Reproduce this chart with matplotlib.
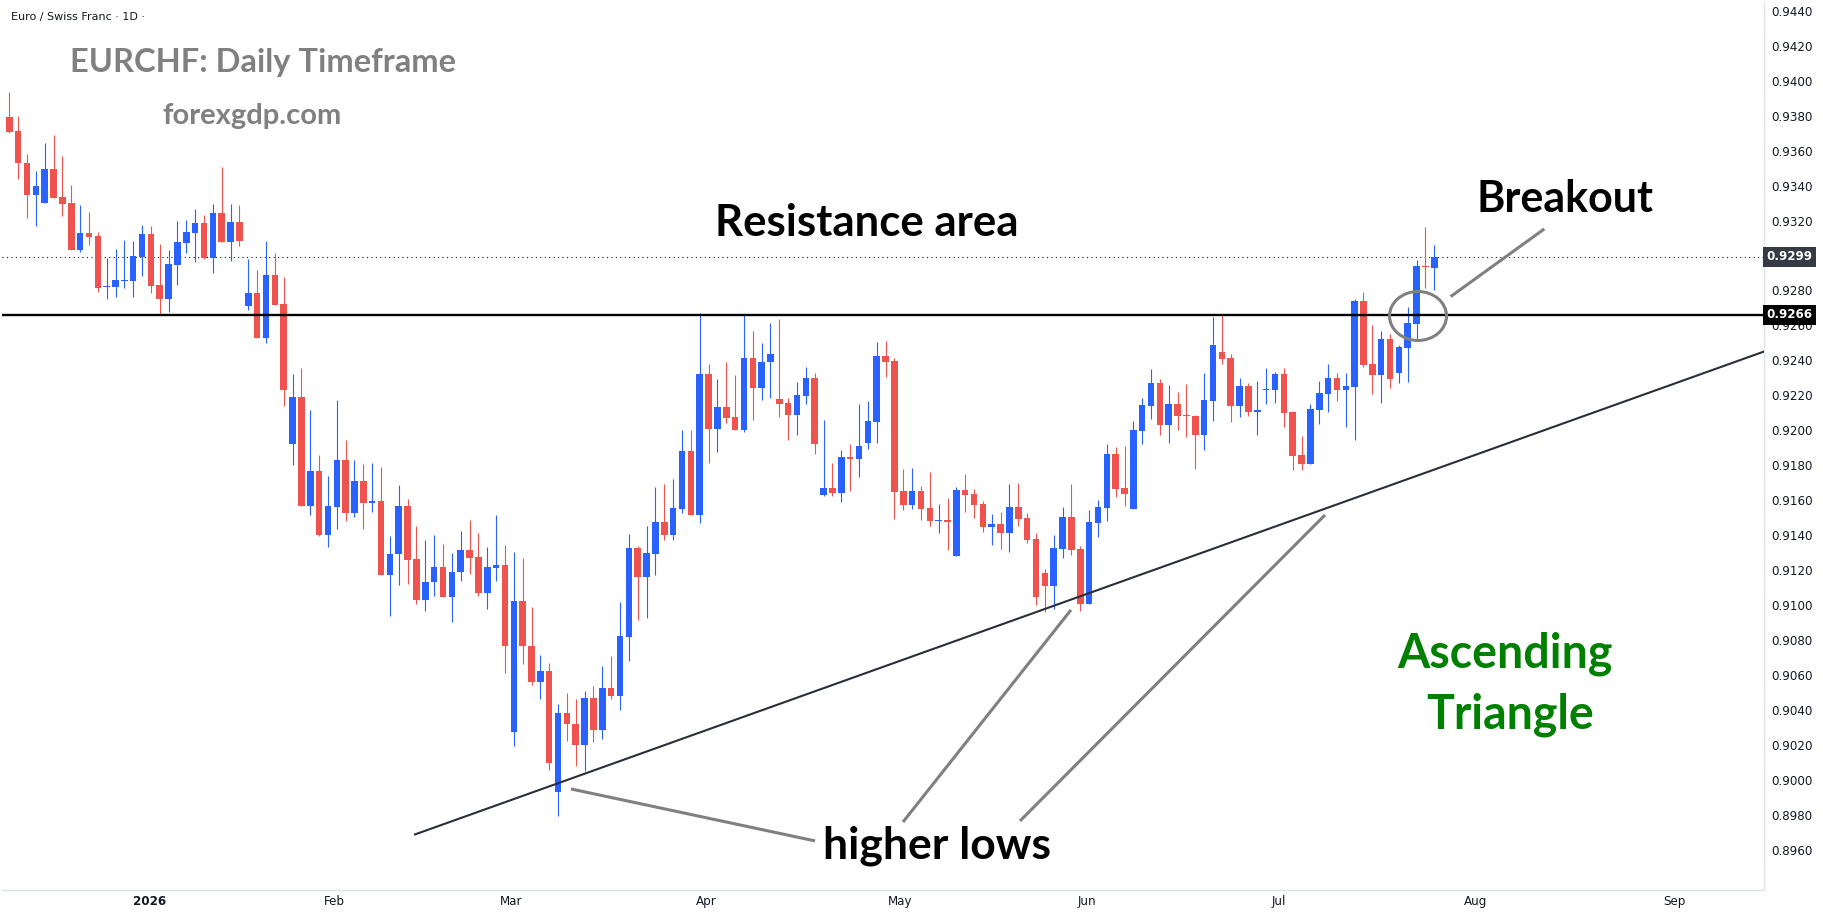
"""EURCHF daily chart with an ascending-triangle breakout markup."""
import numpy as np
import matplotlib
matplotlib.use("Agg")
import matplotlib.pyplot as plt
from matplotlib.patches import Ellipse
from matplotlib.transforms import blended_transform_factory

# ── Data: daily OHLC, one row per trading day (index 0 = mid Dec 2025) ─────────
opens = [
    0.93794, 0.93712, 0.93531, 0.93346, 0.93302, 0.93495, 0.93335, 0.93300, 0.93034, 0.93129,
    0.93112, 0.92820, 0.92822, 0.92854, 0.92856, 0.92994, 0.93123, 0.92832, 0.92753, 0.92948,
    0.93074, 0.93131, 0.93186, 0.92988, 0.93243, 0.93079, 0.93192, 0.92713, 0.92786, 0.92530,
    0.92889, 0.92723, 0.91924, 0.92191, 0.91570, 0.91768, 0.91404, 0.91564, 0.91831, 0.91530,
    0.91711, 0.91587, 0.91596, 0.91175, 0.91290, 0.91568, 0.91265, 0.91032, 0.91130, 0.91219,
    0.91049, 0.91187, 0.91316, 0.91276, 0.91067, 0.91215, 0.91230, 0.90277, 0.91025, 0.90769,
    0.90563, 0.90624, 0.89934, 0.90384, 0.90321, 0.90203, 0.90470, 0.90289, 0.90527, 0.90483,
    0.90820, 0.91328, 0.91164, 0.91295, 0.91476, 0.91404, 0.91551, 0.91882, 0.91516, 0.92323,
    0.92008, 0.92134, 0.92077, 0.92002, 0.92414, 0.92244, 0.92388, 0.92180, 0.92157, 0.92088,
    0.92197, 0.92300, 0.91631, 0.91671, 0.91642, 0.91848, 0.91837, 0.91928, 0.92048, 0.92426,
    0.92397, 0.91654, 0.91574, 0.91654, 0.91556, 0.91484, 0.91490, 0.91284, 0.91659, 0.91636,
    0.91579, 0.91448, 0.91465, 0.91413, 0.91562, 0.91499, 0.91379, 0.91185, 0.91110, 0.91322,
    0.91505, 0.91322, 0.91007, 0.91471, 0.91556, 0.91865, 0.91671, 0.91551, 0.91997, 0.92140,
    0.92271, 0.92031, 0.92151, 0.92088, 0.92082, 0.91974, 0.92168, 0.92448, 0.92414, 0.92140,
    0.92254, 0.92105, 0.92231, 0.92231, 0.92323, 0.92105, 0.91860, 0.91808, 0.92117, 0.92208,
    0.92300, 0.92231, 0.92248, 0.92740, 0.92380, 0.92317, 0.92523, 0.92328, 0.92471, 0.92609,
    0.92940, 0.92929,
]
highs = [
    0.93937, 0.93800, 0.93581, 0.93485, 0.93645, 0.93689, 0.93569, 0.93403, 0.93289, 0.93249,
    0.93135, 0.92986, 0.93037, 0.93089, 0.93083, 0.93175, 0.93169, 0.93068, 0.93032, 0.93198,
    0.93203, 0.93266, 0.93232, 0.93295, 0.93506, 0.93295, 0.93289, 0.92980, 0.92917, 0.93083,
    0.93015, 0.92877, 0.92323, 0.92357, 0.92117, 0.91859, 0.91741, 0.92174, 0.91945, 0.91831,
    0.91808, 0.91814, 0.91791, 0.91396, 0.91688, 0.91608, 0.91455, 0.91370, 0.91404, 0.91352,
    0.91301, 0.91427, 0.91490, 0.91415, 0.91330, 0.91513, 0.91345, 0.91307, 0.91271, 0.90987,
    0.90716, 0.90670, 0.90436, 0.90499, 0.90464, 0.90510, 0.90539, 0.90653, 0.90710, 0.91019,
    0.91408, 0.91339, 0.91454, 0.91677, 0.91694, 0.91720, 0.92002, 0.92002, 0.92670, 0.92380,
    0.92294, 0.92391, 0.92317, 0.92660, 0.92569, 0.92500, 0.92614, 0.92637, 0.92185, 0.92277,
    0.92363, 0.92328, 0.92060, 0.91814, 0.91888, 0.91922, 0.92151, 0.92168, 0.92506, 0.92511,
    0.92414, 0.91779, 0.91785, 0.91682, 0.91762, 0.91579, 0.91614, 0.91676, 0.91751, 0.91665,
    0.91596, 0.91522, 0.91534, 0.91694, 0.91699, 0.91528, 0.91413, 0.91208, 0.91402, 0.91562,
    0.91694, 0.91339, 0.91545, 0.91602, 0.91922, 0.91905, 0.91911, 0.92054, 0.92185, 0.92351,
    0.92294, 0.92260, 0.92220, 0.92265, 0.92088, 0.92330, 0.92649, 0.92666, 0.92437, 0.92300,
    0.92271, 0.92283, 0.92357, 0.92334, 0.92357, 0.92111, 0.91968, 0.92151, 0.92283, 0.92380,
    0.92328, 0.92328, 0.92751, 0.92792, 0.92603, 0.92569, 0.92551, 0.92488, 0.92706, 0.92974,
    0.93163, 0.93060,
]
lows = [
    0.93703, 0.93436, 0.93213, 0.93171, 0.93302, 0.93331, 0.93228, 0.93034, 0.93022, 0.93062,
    0.92793, 0.92750, 0.92765, 0.92814, 0.92765, 0.92885, 0.92784, 0.92666, 0.92679, 0.92830,
    0.93016, 0.92965, 0.92980, 0.92902, 0.93079, 0.92971, 0.93056, 0.92690, 0.92530, 0.92498,
    0.92719, 0.92142, 0.91804, 0.91570, 0.91518, 0.91398, 0.91335, 0.91433, 0.91484, 0.91507,
    0.91433, 0.91535, 0.91175, 0.90941, 0.91118, 0.91124, 0.91009, 0.90964, 0.91055, 0.91049,
    0.90906, 0.91141, 0.91181, 0.91055, 0.90981, 0.91141, 0.90611, 0.90197, 0.90661, 0.90546,
    0.90464, 0.90055, 0.89797, 0.90226, 0.90083, 0.90049, 0.90215, 0.90237, 0.90466, 0.90403,
    0.90683, 0.90914, 0.90924, 0.91170, 0.91375, 0.91375, 0.91526, 0.91516, 0.91469, 0.91816,
    0.91877, 0.92044, 0.92002, 0.91993, 0.92060, 0.92174, 0.92187, 0.92077, 0.91945, 0.91974,
    0.92151, 0.91865, 0.91625, 0.91625, 0.91591, 0.91654, 0.91734, 0.91894, 0.91928, 0.92305,
    0.91494, 0.91545, 0.91551, 0.91488, 0.91455, 0.91415, 0.91318, 0.91284, 0.91535, 0.91499,
    0.91419, 0.91345, 0.91322, 0.91305, 0.91454, 0.91356, 0.91002, 0.90962, 0.90979, 0.91271,
    0.91288, 0.90967, 0.91007, 0.91391, 0.91482, 0.91619, 0.91568, 0.91551, 0.91922, 0.92065,
    0.91974, 0.91928, 0.92002, 0.91962, 0.91779, 0.91888, 0.92054, 0.92380, 0.92048, 0.92077,
    0.92082, 0.91974, 0.92151, 0.92157, 0.92020, 0.91774, 0.91774, 0.91808, 0.92037, 0.92105,
    0.92168, 0.92020, 0.91945, 0.92363, 0.92208, 0.92157, 0.92243, 0.92271, 0.92277, 0.92511,
    0.92814, 0.92803,
]
closes = [
    0.93708, 0.93527, 0.93346, 0.93398, 0.93495, 0.93331, 0.93297, 0.93034, 0.93129, 0.93108,
    0.92816, 0.92826, 0.92860, 0.92860, 0.92999, 0.93123, 0.92828, 0.92753, 0.92952, 0.93077,
    0.93135, 0.93186, 0.92988, 0.93243, 0.93079, 0.93192, 0.93083, 0.92786, 0.92530, 0.92889,
    0.92719, 0.92233, 0.92191, 0.91570, 0.91768, 0.91404, 0.91568, 0.91831, 0.91530, 0.91711,
    0.91587, 0.91596, 0.91175, 0.91293, 0.91568, 0.91261, 0.91032, 0.91133, 0.91219, 0.91049,
    0.91190, 0.91316, 0.91272, 0.91067, 0.91221, 0.91231, 0.90769, 0.91025, 0.90764, 0.90563,
    0.90624, 0.90100, 0.90384, 0.90318, 0.90203, 0.90470, 0.90289, 0.90527, 0.90483, 0.90824,
    0.91328, 0.91164, 0.91299, 0.91476, 0.91404, 0.91556, 0.91882, 0.91516, 0.92323, 0.92008,
    0.92134, 0.92073, 0.92002, 0.92414, 0.92244, 0.92391, 0.92437, 0.92151, 0.92088, 0.92203,
    0.92300, 0.91922, 0.91671, 0.91642, 0.91848, 0.91837, 0.91911, 0.92054, 0.92426, 0.92391,
    0.91648, 0.91574, 0.91654, 0.91551, 0.91484, 0.91490, 0.91473, 0.91659, 0.91631, 0.91574,
    0.91448, 0.91465, 0.91413, 0.91562, 0.91494, 0.91373, 0.91048, 0.91110, 0.91328, 0.91505,
    0.91316, 0.91007, 0.91476, 0.91562, 0.91865, 0.91665, 0.91636, 0.92002, 0.92145, 0.92271,
    0.92031, 0.92151, 0.92082, 0.92082, 0.91974, 0.92174, 0.92488, 0.92408, 0.92140, 0.92254,
    0.92105, 0.92117, 0.92237, 0.92323, 0.92100, 0.91854, 0.91808, 0.92123, 0.92214, 0.92300,
    0.92231, 0.92254, 0.92740, 0.92374, 0.92317, 0.92523, 0.92294, 0.92477, 0.92614, 0.92940,
    0.92934, 0.92992,
]

# Month labels and the bar index where each month starts
month_labels = ["2026", "Feb", "Mar", "Apr", "May", "Jun", "Jul", "Aug", "Sep"]
month_bars = [15.8, 36.7, 56.7, 78.7, 100.7, 121.8, 143.4, 165.7, 188.1]

resistance = 0.9266
price_ticks = np.arange(0.8960, 0.94401, 0.002)

# ── Style ─────────────────────────────────────────────────────────────────────
UP = "#2962FF"
DOWN = "#EF5350"
INK = "#131722"
AXIS_LINE = "#E0E3EB"
NOTE_GRAY = "#808080"
ANNOT_FONT = "Lato"

W, H = 1823, 921
fig = plt.figure(figsize=(W / 100, H / 100), dpi=100)
fig.patch.set_facecolor("white")
ax = fig.add_axes([2 / W, 31.5 / H, 1762 / W, 886.5 / H])

o = np.array(opens)
h = np.array(highs)
l = np.array(lows)
c = np.array(closes)
x = np.arange(len(c))
colors = np.where(c >= o, UP, DOWN)

# wicks, then bodies
ax.vlines(x, l, h, colors=colors, linewidth=0.8, zorder=2)
body_low = np.minimum(o, c)
body_h = np.maximum(np.abs(c - o), 0.00004)
ax.bar(x, body_h, bottom=body_low, width=0.74, color=colors, linewidth=0, zorder=3)

ax.set_xlim(-0.825, 198.25)
ax.set_ylim(0.89374, 0.94444)

# resistance + last price lines
ax.axhline(resistance, color="black", linewidth=1.7, zorder=4)
ax.axhline(c[-1], color=INK, linewidth=0.8, linestyle=(0, (1, 3)), zorder=1)

# ascending trend line (support of the triangle)
tl_x = np.array([45.84, 198.5])
tl_y = 0.89689 + (tl_x - tl_x[0]) * 0.0001812
ax.plot(tl_x, tl_y, color="#2A2E39", linewidth=1.5, zorder=4)

# pointer lines
pointers = [
    ((162.85, 0.92765), (173.43, 0.93152)),   # breakout
    ((63.46, 0.89949), (91.03, 0.89652)),     # higher low 1
    ((119.95, 0.90973), (100.97, 0.89760)),   # higher low 2
    ((148.65, 0.91516), (114.19, 0.89766)),   # higher low 3
]
for (x0, y0), (x1, y1) in pointers:
    ax.plot([x0, x1], [y0, y1], color=NOTE_GRAY, linewidth=2.2,
            solid_capstyle="butt", zorder=5)
ax.add_patch(Ellipse((159.16, 0.92654), 6.44, 0.0028, fill=False,
                     edgecolor=NOTE_GRAY, linewidth=2.2, zorder=5))

# ── Axes cosmetics ────────────────────────────────────────────────────────────
for side in ("top", "left"):
    ax.spines[side].set_visible(False)
for side in ("right", "bottom"):
    ax.spines[side].set_color(AXIS_LINE)
    ax.spines[side].set_linewidth(1.0)

# the last-price tag sits on top of the 0.9300 level, so that label is hidden
tick_text = [f"{p:.4f}" for p in price_ticks]
tick_text = ["" if abs(p - c[-1]) < 0.0008 else t for p, t in zip(price_ticks, tick_text)]
ax.yaxis.tick_right()
ax.set_yticks(price_ticks)
ax.set_yticklabels(tick_text)
ax.tick_params(axis="y", length=0, pad=5, labelsize=8.6, labelcolor=INK)
ax.set_xticks(month_bars)
ax.set_xticklabels(month_labels)
ax.tick_params(axis="x", length=0, pad=4, labelsize=8.6, labelcolor=INK)
for lab in ax.get_xticklabels()[:1]:
    lab.set_fontweight("bold")

# price tags on the right scale
tag_tr = blended_transform_factory(ax.transAxes, ax.transData)
for val, face in ((c[-1], "#363A45"), (resistance, "black")):
    ax.text(1.0015, val, f"{val:.4f}", transform=tag_tr, ha="left", va="center",
            fontsize=8.6, color="white", fontweight="bold", zorder=10, clip_on=False,
            bbox=dict(boxstyle="square,pad=0.32", fc=face, ec="none"))

# ── Text ──────────────────────────────────────────────────────────────────────
def fig_text(px, py, s, **kw):
    fig.text(px / W, 1 - py / H, s, **kw)

fig_text(11, 17, "Euro / Swiss Franc · 1D ·", fontsize=8, color=INK, va="center")
fig_text(70, 72, "EURCHF: Daily Timeframe", fontsize=23.5, color=NOTE_GRAY,
         fontweight="bold", family=ANNOT_FONT, va="baseline")
fig_text(162, 124, "forexgdp.com", fontsize=21, color=NOTE_GRAY,
         fontweight="bold", family=ANNOT_FONT, va="baseline")
fig_text(715, 236, "Resistance area", fontsize=31.5, color="black",
         fontweight="bold", family=ANNOT_FONT, va="baseline")
fig_text(1477, 212, "Breakout", fontsize=31, color="black",
         fontweight="bold", family=ANNOT_FONT, va="baseline")
fig_text(1505, 667, "Ascending", fontsize=33.5, color="#008000",
         fontweight="bold", family=ANNOT_FONT, va="baseline", ha="center")
fig_text(1510, 728, "Triangle", fontsize=33.5, color="#008000",
         fontweight="bold", family=ANNOT_FONT, va="baseline", ha="center")
fig_text(823, 858, "higher lows", fontsize=32, color="black",
         fontweight="bold", family=ANNOT_FONT, va="baseline")

fig.savefig("out.png", dpi=100, facecolor="white")
